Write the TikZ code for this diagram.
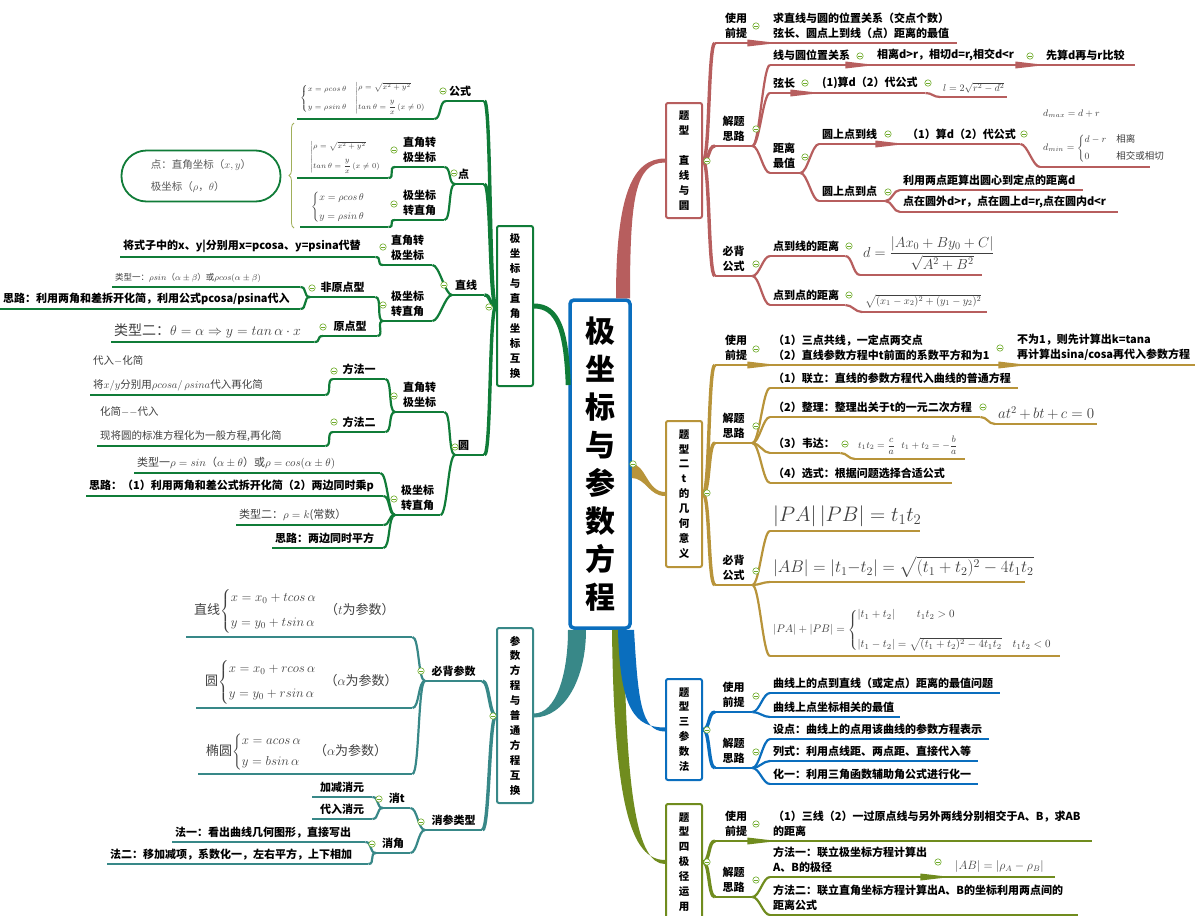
\documentclass[tikz,border=0pt]{standalone}
\usepackage{fix-cm}
\usepackage{amsmath}
\usepackage[no-math]{fontspec}
\setmainfont{Noto Sans CJK SC}
\usetikzlibrary{decorations.pathreplacing}

\definecolor{cGreen}{RGB}{16,124,56}
\definecolor{cTeal}{RGB}{56,136,136}
\definecolor{cRed}{RGB}{183,94,94}
\definecolor{cGold}{RGB}{184,148,58}
\definecolor{cBlue}{RGB}{10,110,190}
\definecolor{cOlive}{RGB}{112,140,30}
\definecolor{foldc}{RGB}{110,170,40}
\definecolor{braceC}{RGB}{160,175,90}

\relpenalty=10000
\binoppenalty=10000
\hyphenpenalty=10000

% topic text above its line
\newcommand\branch[7][]{%
  \pgfmathsetmacro\brw{#4-#3-6}%
  \node[tpc, text width=\brw pt, #1] (#2) at (#3,#5) {#7};
  \draw[ln=#6] (#2.south west) -- (#2.south east);}

\begin{document}
\begin{tikzpicture}[x=1pt,y=-1pt,
  ln/.style={draw=#1, line width=2.2pt},
  tpc/.style={anchor=south west, inner xsep=3pt, inner ysep=4pt, align=left, font=\bfseries\fontsize{11}{15}\selectfont},
  fml/.style 2 args={text=black!75, font=\fontsize{#1}{#2}\selectfont},
  lnk/.style={out=0, in=180, distance=7pt},
  bx/.style={draw=#1, line width=2pt, rounded corners=2pt, fill=white, minimum width=36pt, inner sep=0, align=center, font=\bfseries\fontsize{10.5}{14.9}\selectfont},
  fold/.style={draw=foldc, fill=white, line width=0.6pt}]

\fill[white] (0,0) rectangle (1195,916);
\useasboundingbox (0,0) rectangle (1195,916);

% main boxes
\node[bx=cBlue, line width=3.5pt, rounded corners=4pt, minimum width=60pt, minimum height=328pt, font=\bfseries\fontsize{30}{38}\selectfont] (ctr) at (600,464) {极\\坐\\标\\与\\参\\数\\方\\程};
\node[bx=cGreen, minimum height=160pt] (bx1) at (515,306) {极\\坐\\标\\与\\直\\角\\坐\\标\\互\\换};
\node[bx=cTeal, minimum height=175pt] (bx2) at (515,715.5) {参\\数\\方\\程\\与\\普\\通\\方\\程\\互\\换};
\node[bx=cRed, minimum height=115pt] (bx3) at (684,160.5) {题\\型\\[15pt]直\\线\\与\\圆};
\node[bx=cGold, minimum height=146pt] (bx4) at (684,494) {题\\型\\二\\t\\的\\几\\何\\意\\义};
\node[bx=cBlue, minimum height=101pt] (bx5) at (684,729.5) {题\\型\\三\\参\\数\\法};
\node[bx=cOlive, minimum height=116pt] (bx6) at (684,862) {题\\型\\四\\极\\径\\运\\用};

% tapered main branches
\fill[cOlive] ([xshift=12pt]ctr.south) .. controls +(2,175) and +(-34,0) .. ([yshift=2pt]bx6.west) -- ([yshift=-2pt]bx6.west) .. controls +(-28,0) and +(2,165) .. ([xshift=24pt]ctr.south) -- cycle;
\fill[cBlue] ([xshift=18pt]ctr.south) .. controls +(2,80) and +(-30,0) .. ([yshift=2pt]bx5.west) -- ([yshift=-2pt]bx5.west) .. controls +(-24,0) and +(4,70) .. ([xshift=34pt]ctr.south) -- cycle;
\fill[cTeal] ([xshift=-32pt]ctr.south) .. controls +(0,45) and +(22,0) .. ([yshift=2pt]bx2.east) -- ([yshift=-2pt]bx2.east) .. controls +(30,0) and +(0,50) .. ([xshift=-14pt]ctr.south) -- cycle;
\fill[cRed] ([xshift=16pt]ctr.north) .. controls +(0,-105) and +(-32,0) .. ([yshift=2pt]bx3.west) -- ([yshift=-2pt]bx3.west) .. controls +(-30,0) and +(0,-100) .. ([xshift=30pt]ctr.north) -- cycle;
\fill[cGold] (ctr.east) .. controls +(14,0) and +(-18,0) .. ([yshift=2pt]bx4.west) -- ([yshift=-2pt]bx4.west) .. controls +(-16,0) and +(14,0) .. ([yshift=-14pt]ctr.east) -- cycle;
\draw[ln=cGreen, line width=5pt] ([yshift=79pt]ctr.west) .. controls +(-2,-55) and +(24,0) .. (bx1.east);

% polar <-> cartesian
\branch{gs}{446}{484}{101}{cGreen}{公式}
\branch[fml={7.5}{9}]{gsf}{297}{434}{119}{cGreen}{$\left\{\begin{array}{@{}l@{}}x=\rho cos\,\theta\\[9pt] y=\rho sin\,\theta\end{array}\right.$\quad$\left|\begin{array}{@{}l@{}}\rho=\sqrt{x^2+y^2}\\[8pt] tan\,\theta=\dfrac{y}{x}\,(x\neq0)\end{array}\right.$}
\branch{gd}{455}{484}{184}{cGreen}{点}
\branch[align=center]{gd1}{395}{444}{167}{cGreen}{直角转\\极坐标}
\branch[fml={7.5}{9}]{gd1f}{297}{388}{178}{cGreen}{\hspace*{10pt}$\left|\begin{array}{@{}l@{}}\rho=\sqrt{x^2+y^2}\\[8pt] tan\,\theta=\dfrac{y}{x}\,(x\neq0)\end{array}\right.$}
\branch[align=center]{gd2}{395}{444}{220}{cGreen}{极坐标\\转直角}
\branch[fml={10}{12}]{gd2f}{300}{388}{227}{cGreen}{\hspace*{8pt}$\left\{\begin{array}{@{}l@{}}x=\rho cos\,\theta\\[7pt] y=\rho sin\,\theta\end{array}\right.$}
\node[draw=cGreen, line width=1.8pt, rounded corners=25pt, minimum width=159pt, minimum height=51pt, inner sep=0, align=left, text=black!65, font=\fontsize{10.5}{22}\selectfont] (pnote) at (201,176) {点：直角坐标（$x,y$）\\极坐标（$\rho$，$\theta$）};
\draw[decorate, decoration={brace, amplitude=5pt}, draw=braceC, line width=0.8pt] (294,228) -- (294,123);

\branch{gz}{452}{484}{295}{cGreen}{直线}
\branch[align=center]{gz1}{383}{432}{265}{cGreen}{直角转\\极坐标}
\branch{gz1a}{120}{375}{257}{cGreen}{将式子中的x、y|分别用x=pcosa、y=psina代替}
\branch[align=center]{gz2}{383}{432}{321}{cGreen}{极坐标\\转直角}
\branch[align=center]{gz2a}{310}{375}{297}{cGreen}{非原点型}
\branch[fml={8.5}{10}]{gz2a1}{112}{300}{287}{cGreen}{类型一：$\rho sin$（$\alpha\pm\beta$）或$\rho cos(\alpha\pm\beta)$}
\branch{gz2a2}{0}{300}{309}{cGreen}{思路：利用两角和差拆开化简，利用公式pcosa/psina代入}
\branch[align=center]{gz2b}{323}{377}{336}{cGreen}{原点型}
\branch[fml={14}{16}]{gz2b1}{111}{314}{342}{cGreen}{类型二：$\theta=\alpha\Rightarrow y=tan\,\alpha\cdot x$}

\branch{gy}{455}{484}{455}{cGreen}{圆}
\branch[align=center]{gy1}{395}{444}{412}{cGreen}{直角转\\极坐标}
\branch[align=center]{gy1a}{333}{385}{379}{cGreen}{方法一}
\branch[fml={10.5}{24}]{gy1a1}{90}{325}{395}{cGreen}{代入$-$化简\\将$x/y$分别用$\rho cosa/\,\rho sina$代入再化简}
\branch[align=center]{gy1b}{333}{385}{432}{cGreen}{方法二}
\branch[fml={10.5}{24}]{gy1b1}{97}{325}{446}{cGreen}{化简$--$代入\\现将圆的标准方程化为一般方程,再化简}
\branch[align=center]{gy2}{395}{440}{515}{cGreen}{极坐标\\转直角}
\branch[fml={11}{13}]{gy2a}{134}{380}{473}{cGreen}{类型一$\rho=sin$（$\alpha\pm\theta$）或$\rho=cos(\alpha\pm\theta)$}
\branch{gy2b}{86}{383}{496}{cGreen}{思路：（1）利用两角和差公式拆开化简（2）两边同时乘p}
\branch[fml={11}{13}]{gy2c}{236}{383}{525}{cGreen}{类型二：$\rho=k$(常数）}
\branch{gy2d}{272}{383}{548}{cGreen}{思路：两边同时平方}

\foreach \c/\p in {gsf/gs, gd1/gd, gd2/gd, gd1f/gd1, gd2f/gd2, gz1/gz, gz2/gz, gz1a/gz1, gz2a/gz2, gz2b/gz2, gz2a1/gz2a, gz2a2/gz2a, gz2b1/gz2b, gy1/gy, gy2/gy, gy1a/gy1, gy1b/gy1, gy1a1/gy1a, gy1b1/gy1b, gy2a/gy2, gy2b/gy2, gy2c/gy2, gy2d/gy2}
  \draw[ln=cGreen] (\c.south east) to[lnk] (\p.south west);
\foreach \c in {gs, gd, gz, gy}
  \draw[ln=cGreen, line width=3.4pt] (\c.south east) to[lnk] (bx1.west);

% parametric <-> ordinary
\branch[align=center]{tb}{425}{482}{681}{cTeal}{必背参数}
\branch[fml={13}{15}]{tb1}{186}{412}{637}{cTeal}{\hspace*{5pt}直线$\left\{\begin{array}{@{}l@{}}x=x_0+tcos\,\alpha\\[10pt] y=y_0+tsin\,\alpha\end{array}\right.$\hspace{8pt}（$t$为参数）}
\branch[fml={13}{15}]{tb2}{196}{412}{708}{cTeal}{\hspace*{6pt}圆$\left\{\begin{array}{@{}l@{}}x=x_0+rcos\,\alpha\\[10pt] y=y_0+rsin\,\alpha\end{array}\right.$\hspace{8pt}（$\alpha$为参数）}
\branch[fml={13}{15}]{tb3}{198}{412}{774}{cTeal}{\hspace*{5pt}椭圆$\left\{\begin{array}{@{}l@{}}x=acos\,\alpha\\[6pt] y=bsin\,\alpha\end{array}\right.$\hspace{12pt}（$\alpha$为参数）}
\branch[align=center]{tx}{425}{482}{830}{cTeal}{消参类型}
\branch[align=center]{tx1}{383}{410}{808}{cTeal}{消t}
\branch[align=center]{tx1a}{312}{372}{797}{cTeal}{加减消元}
\branch[align=center]{tx1b}{312}{372}{819}{cTeal}{代入消元}
\branch[align=center]{tx2}{376}{410}{853}{cTeal}{消角}
\branch{tx2a}{172}{365}{842}{cTeal}{法一：看出曲线几何图形，直接写出}
\branch{tx2b}{107}{368}{864}{cTeal}{法二：移加减项，系数化一，左右平方，上下相加}

\foreach \c/\p in {tb1/tb, tb2/tb, tb3/tb, tx1/tx, tx2/tx, tx1a/tx1, tx1b/tx1, tx2a/tx2, tx2b/tx2}
  \draw[ln=cTeal] (\c.south east) to[lnk] (\p.south west);
\foreach \c in {tb, tx}
  \draw[ln=cTeal, line width=3.4pt] (\c.south east) to[lnk] (bx2.west);

% type 1
\branch[align=center]{ra}{715}{757}{43}{cRed}{使用\\前提}
\branch{ra1}{770}{957}{43}{cRed}{求直线与圆的位置关系（交点个数）\\弦长、圆点上到线（点）距离的最值}
\branch[align=center]{rb}{715}{752}{146}{cRed}{解题\\思路}
\branch{rb1}{770}{855}{65}{cRed}{线与圆位置关系}
\branch{rb1a}{874}{1025}{65}{cRed}{相离d>r，相切d=r,相交d<r}
\branch{rb1b}{1043}{1135}{65}{cRed}{先算d再与r比较}
\branch{rb2}{770}{800}{93}{cRed}{弦长}
\branch{rb2a}{819}{925}{93}{cRed}{(1)算d（2）代公式}
\branch[fml={10}{12}]{rb2b}{940}{1007}{97}{cRed}{$l=2\sqrt{r^2-d^2}$}
\branch{rb3}{770}{800}{173}{cRed}{距离\\最值}
\branch{rb3a}{819}{885}{144}{cRed}{圆上点到线}
\branch{rb3a1}{904}{1020}{144}{cRed}{（1）算d（2）代公式}
\branch[fml={9.5}{11}]{rb3a2}{1040}{1150}{167}{cRed}{$d_{max}=d+r$\\[16pt]$d_{min}=\left\{\begin{array}{@{}ll@{}}d-r & \text{相离}\\[6pt] 0 & \text{相交或相切}\end{array}\right.$}
\branch{rb3b}{819}{885}{201}{cRed}{圆上点到点}
\branch{rb3b1}{900}{1083}{190}{cRed}{利用两点距算出圆心到定点的距离d}
\branch{rb3b2}{900}{1118}{212}{cRed}{点在圆外d>r，点在圆上d=r,点在圆内d<r}
\branch[align=center]{rc}{715}{752}{276}{cRed}{必背\\公式}
\branch{rc1}{770}{845}{256}{cRed}{点到线的距离}
\branch[fml={14.5}{16}]{rc1a}{860}{982}{275}{cRed}{$d=\dfrac{|Ax_0+By_0+C|}{\sqrt{A^2+B^2}}$}
\branch{rc2}{770}{845}{305}{cRed}{点到点的距离}
\branch[fml={10.5}{12}]{rc2a}{862}{987}{312}{cRed}{$\sqrt{(x_1-x_2)^2+(y_1-y_2)^2}$}

\foreach \p/\c in {ra/ra1, rb/rb1, rb1/rb1a, rb1a/rb1b, rb/rb2, rb2/rb2a, rb2a/rb2b, rb/rb3, rb3/rb3a, rb3a/rb3a1, rb3a1/rb3a2, rb3/rb3b, rb3b/rb3b1, rb3b/rb3b2, rc/rc1, rc1/rc1a, rc/rc2, rc2/rc2a}
  \draw[ln=cRed] (\p.south east) to[lnk] (\c.south west);
\foreach \p in {ra, rb1, rb1a, rb2, rb3a}
  \fill[cRed] (\p.south east) ++(-10,-3.5) -- ++(30,3.5) -- ++(-30,3.5) -- cycle;
\foreach \c in {ra, rb, rc}
  \draw[ln=cRed, line width=3.4pt] (bx3.east) to[lnk] (\c.south west);

% type 2
\branch[align=center]{ya}{715}{757}{365}{cGold}{使用\\前提}
\branch{ya1}{770}{1008}{365}{cGold}{（1）三点共线，一定点两交点\\（2）直线参数方程中t前面的系数平方和为1}
\branch{ya2}{1014}{1195}{365}{cGold}{不为1，则先计算出k=tana\\再计算出sina/cosa再代入参数方程}
\branch[align=center]{yb}{715}{752}{443}{cGold}{解题\\思路}
\branch{yb1}{770}{1018}{388}{cGold}{（1）联立：直线的参数方程代入曲线的普通方程}
\branch{yb2}{770}{980}{417}{cGold}{（2）整理：整理出关于t的一元二次方程}
\branch[fml={15}{17}]{yb2a}{995}{1097}{424}{cGold}{$at^2+bt+c=0$}
\branch{yb3}{770}{840}{453}{cGold}{（3）韦达：}
\branch[fml={9.5}{11}]{yb3a}{855}{965}{459}{cGold}{$t_1t_2=\dfrac{c}{a}\ \ t_1+t_2=-\dfrac{b}{a}$}
\branch{yb4}{770}{952}{483}{cGold}{（4）选式：根据问题选择合适公式}
\branch[align=center]{yc}{715}{752}{585}{cGold}{必背\\公式}
\branch[fml={21}{24}]{yc1}{770}{920}{531}{cGold}{$|PA|\,|PB|=t_1t_2$}
\branch[fml={17}{20}]{yc2}{770}{1025}{582}{cGold}{$|AB|=|t_1-t_2|=\sqrt{(t_1+t_2)^2-4t_1t_2}$}
\branch[fml={11}{13}]{yc3}{770}{1060}{656}{cGold}{$|PA|+|PB|=\left\{\begin{array}{@{}l@{}}|t_1+t_2|\qquad t_1t_2>0\\[16pt] |t_1-t_2|=\sqrt{(t_1+t_2)^2-4t_1t_2}\quad t_1t_2<0\end{array}\right.$}

\foreach \p/\c in {ya/ya1, ya1/ya2, yb/yb1, yb/yb2, yb2/yb2a, yb/yb3, yb3/yb3a, yb/yb4, yc/yc1, yc/yc2, yc/yc3}
  \draw[ln=cGold] (\p.south east) to[lnk] (\c.south west);
\foreach \p in {ya, ya1}
  \fill[cGold] (\p.south east) ++(-10,-3.5) -- ++(30,3.5) -- ++(-30,3.5) -- cycle;
\foreach \c in {ya, yb, yc}
  \draw[ln=cGold, line width=3.4pt] (bx4.east) to[lnk] (\c.south west);

% type 3
\branch[align=center]{ba}{715}{752}{712}{cBlue}{使用\\前提}
\branch{ba1}{770}{1000}{693}{cBlue}{曲线上的点到直线（或定点）距离的最值问题}
\branch{ba2}{770}{900}{717}{cBlue}{曲线上点坐标相关的最值}
\branch[align=center]{bb}{715}{752}{768}{cBlue}{解题\\思路}
\branch{bb1}{770}{989}{739}{cBlue}{设点：曲线上的点用该曲线的参数方程表示}
\branch{bb2}{770}{978}{761}{cBlue}{列式：利用点线距、两点距、直接代入等}
\branch{bb3}{770}{978}{784}{cBlue}{化一：利用三角函数辅助角公式进行化一}

\foreach \p/\c in {ba/ba1, ba/ba2, bb/bb1, bb/bb2, bb/bb3}
  \draw[ln=cBlue] (\p.south east) to[lnk] (\c.south west);
\foreach \c in {ba, bb}
  \draw[ln=cBlue, line width=3.4pt] (bx5.east) to[lnk] (\c.south west);

% type 4
\branch[align=center]{oa}{715}{757}{841}{cOlive}{使用\\前提}
\branch{oa1}{770}{1092}{841}{cOlive}{（1）三线（2）一过原点线与另外两线分别相交于A、B，求AB\\的距离}
\branch[align=center]{ob}{715}{752}{897}{cOlive}{解题\\思路}
\branch{ob1}{770}{930}{877}{cOlive}{方法一：联立极坐标方程计算出\\A、B的极径}
\branch[fml={12}{14}]{ob1a}{952}{1055}{877}{cOlive}{$|AB|=|\rho_A-\rho_B|$}
\branch{ob2}{770}{1078}{915}{cOlive}{方法二：联立直角坐标方程计算出A、B的坐标利用两点间的\\距离公式}

\foreach \p/\c in {oa/oa1, ob/ob1, ob1/ob1a, ob/ob2}
  \draw[ln=cOlive] (\p.south east) to[lnk] (\c.south west);
\foreach \p in {oa, ob1}
  \fill[cOlive] (\p.south east) ++(-10,-3.5) -- ++(30,3.5) -- ++(-30,3.5) -- cycle;
\foreach \c in {oa, ob}
  \draw[ln=cOlive, line width=3.4pt] (bx6.east) to[lnk] (\c.south west);

% fold markers
\foreach \x/\y in {489/307, 443/91, 454/173, 394/150, 394/204, 444/285, 383/247, 383/305, 312/288, 323/327, 455/447, 394/396, 334/371, 334/422, 394/499,
  493/716, 421/671, 421/822, 379/799, 372/844,
  707/161, 756/26, 756/129, 860/56, 1030/56, 805/83, 928/83, 805/157, 888/134, 1024/134, 888/192, 756/264, 849/246, 849/295,
  633/464, 707/493, 756/349, 1000/348, 756/426, 983/407, 845/444, 756/571,
  707/730, 756/696, 756/752,
  707/862, 756/824, 756/880, 938/862}{
  \draw[fold] (\x,\y) circle (3.2pt);
  \draw[foldc, line width=0.7pt] (\x-1.7,\y) -- (\x+1.7,\y);
}

\end{tikzpicture}
\end{document}
